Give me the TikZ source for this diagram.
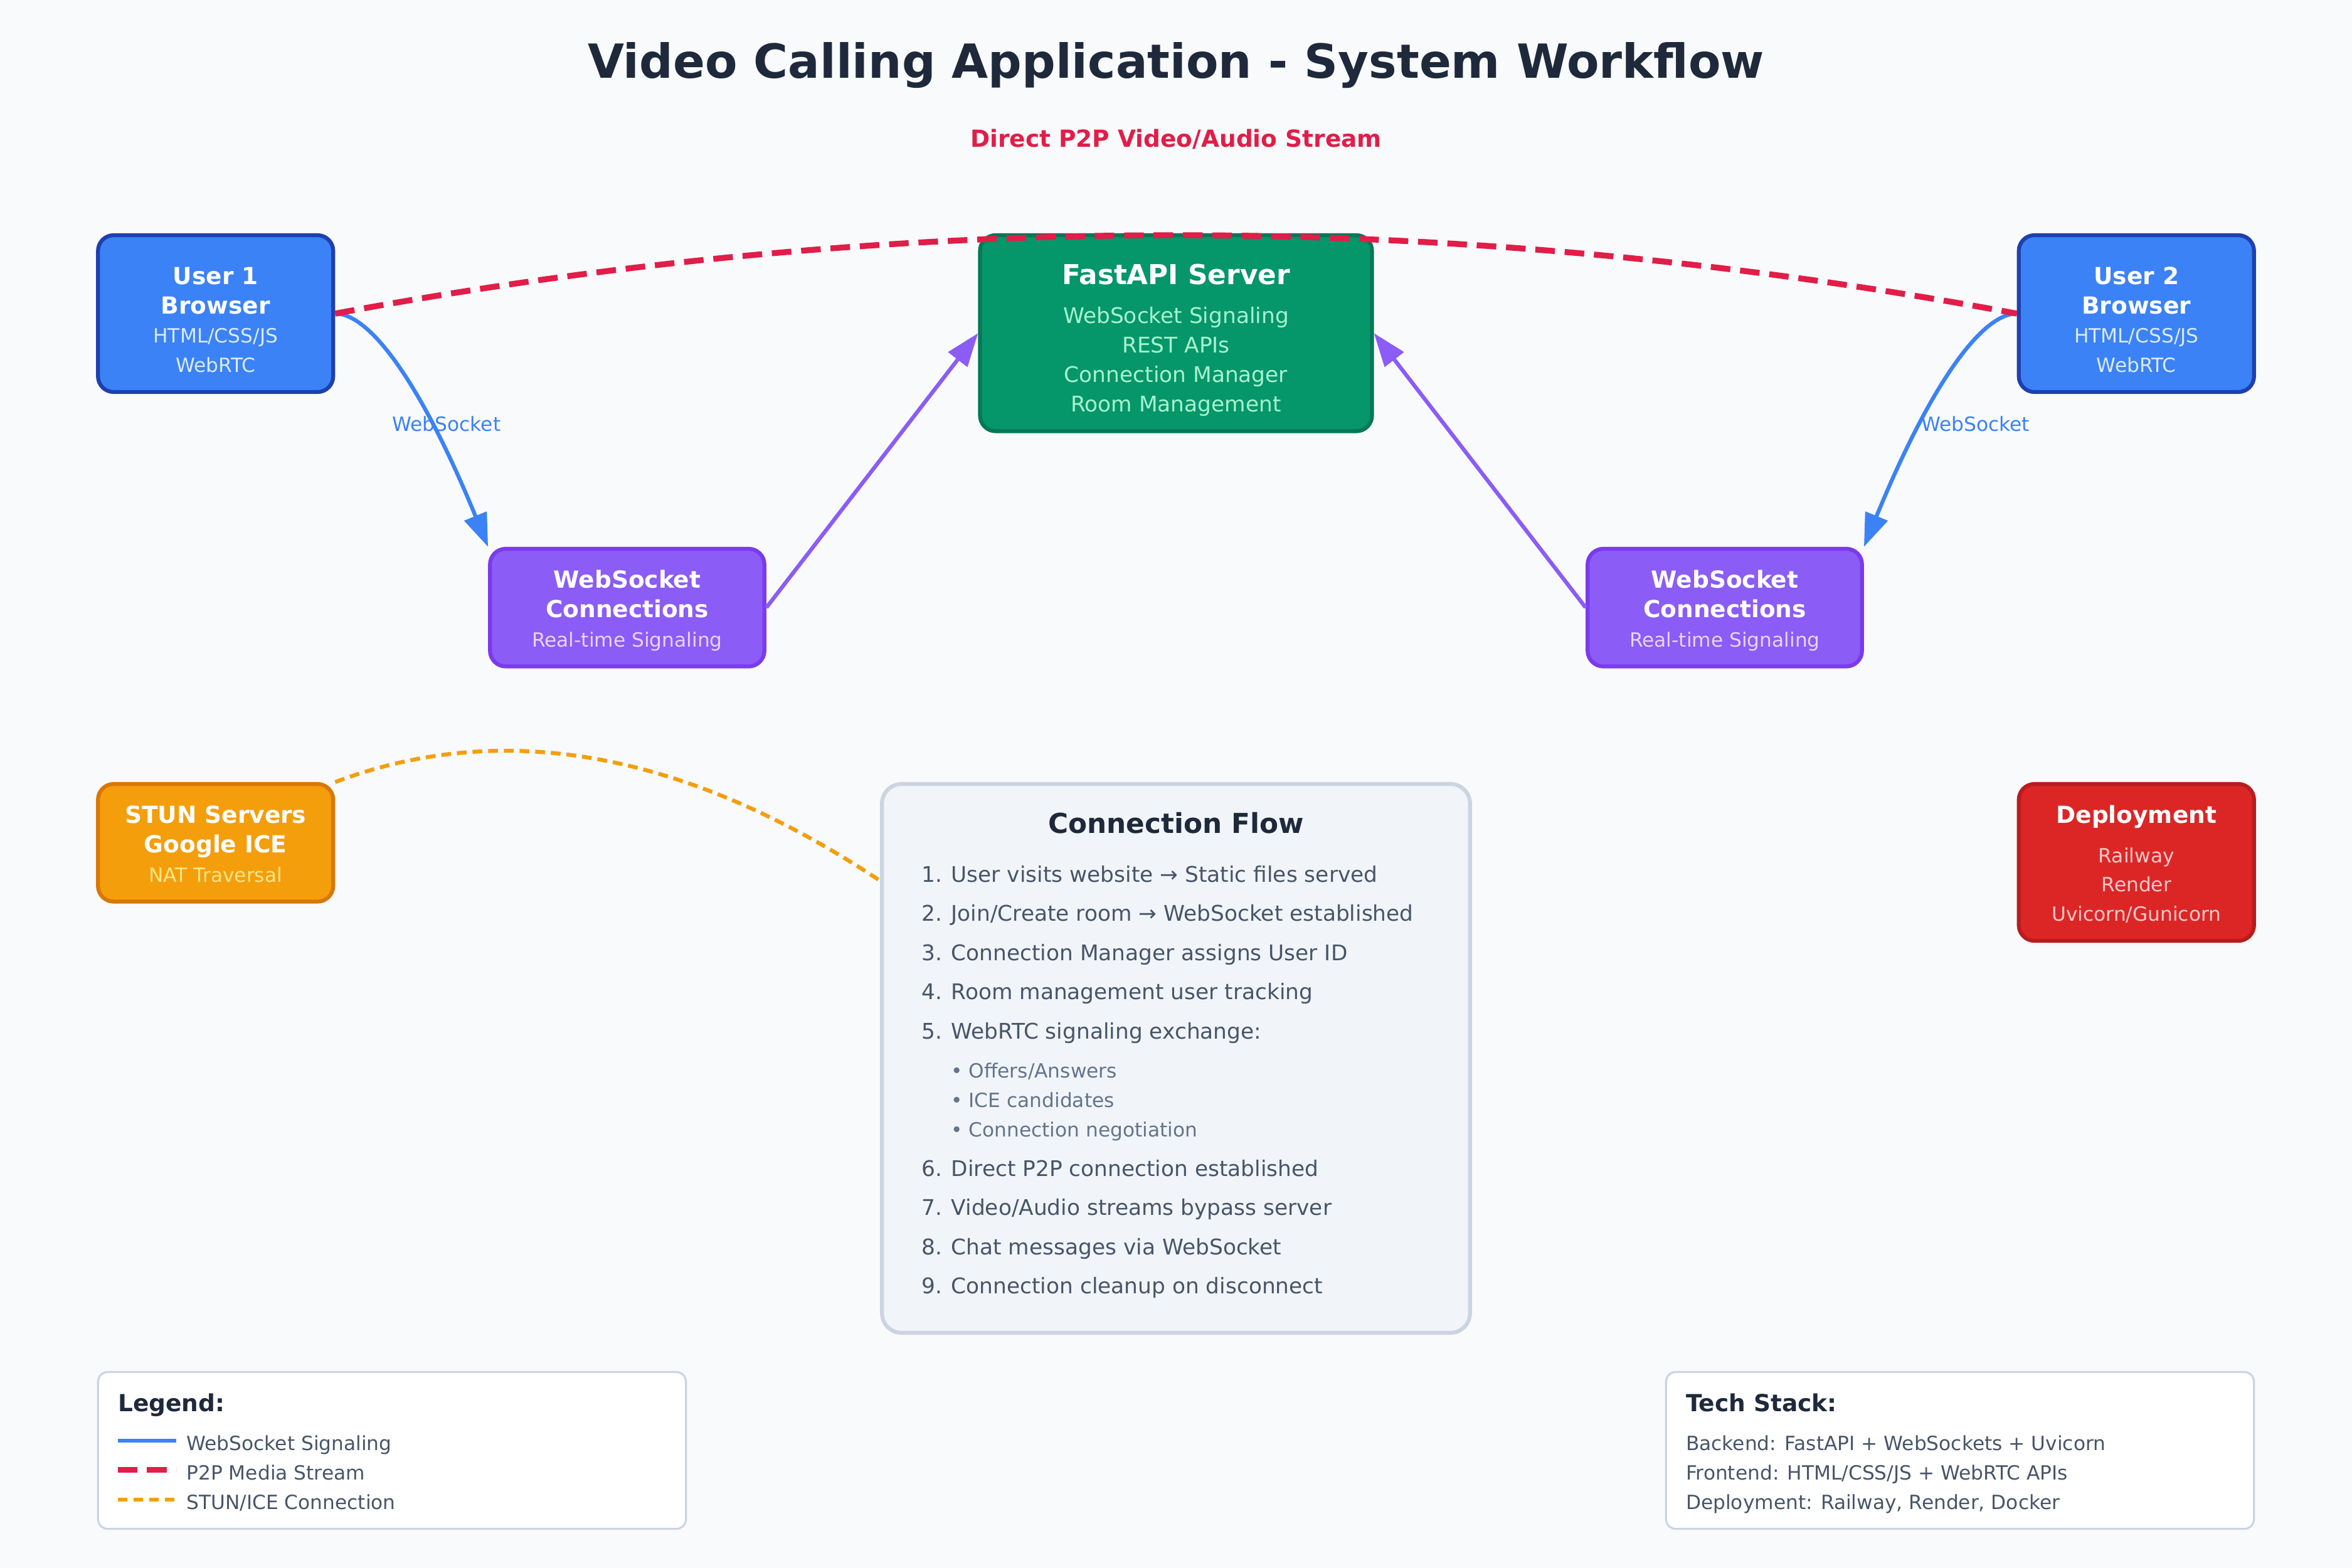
\documentclass[tikz,border=0pt]{standalone}
\usepackage{fontspec}
\setmainfont{DejaVu Sans}
\usetikzlibrary{arrows.meta}
\definecolor{bg}{HTML}{F8FAFC}
\definecolor{titlec}{HTML}{1E293B}
\definecolor{p2pred}{HTML}{E11D48}
\definecolor{blueA}{HTML}{3B82F6}
\definecolor{blueB}{HTML}{1E40AF}
\definecolor{blueT}{HTML}{DBEAFE}
\definecolor{greenA}{HTML}{059669}
\definecolor{greenB}{HTML}{047857}
\definecolor{greenT}{HTML}{A7F3D0}
\definecolor{purpA}{HTML}{8B5CF6}
\definecolor{purpB}{HTML}{7C3AED}
\definecolor{purpT}{HTML}{E9D5FF}
\definecolor{orangeA}{HTML}{F59E0B}
\definecolor{orangeB}{HTML}{D97706}
\definecolor{orangeT}{HTML}{FDE68A}
\definecolor{redA}{HTML}{DC2626}
\definecolor{redB}{HTML}{B91C1C}
\definecolor{redT}{HTML}{FECACA}
\definecolor{flowfill}{HTML}{F1F5F9}
\definecolor{flowstroke}{HTML}{CBD5E1}
\definecolor{itemc}{HTML}{475569}
\definecolor{bulletc}{HTML}{64748B}
\begin{document}
\begin{tikzpicture}[x=1pt,y=-1pt,
  txt/.style={inner sep=0pt, anchor=base},
  txtl/.style={inner sep=0pt, anchor=base west},
  boxbase/.style={rectangle, rounded corners=8pt, line width=2pt, inner sep=0pt},
  userbox/.style={boxbase, fill=blueA, draw=blueB, minimum width=120pt, minimum height=80pt},
  serverbox/.style={boxbase, fill=greenA, draw=greenB, minimum width=200pt, minimum height=100pt},
  wsbox/.style={boxbase, fill=purpA, draw=purpB, minimum width=140pt, minimum height=60pt},
  stunbox/.style={boxbase, fill=orangeA, draw=orangeB, minimum width=120pt, minimum height=60pt},
  depbox/.style={boxbase, fill=redA, draw=redB, minimum width=120pt, minimum height=80pt},
  flowbox/.style={rectangle, rounded corners=10pt, line width=2pt, fill=flowfill, draw=flowstroke, minimum width=300pt, minimum height=280pt, inner sep=0pt},
  infobox/.style={rectangle, rounded corners=5pt, line width=1pt, fill=white, draw=flowstroke, minimum width=300pt, minimum height=80pt, inner sep=0pt},
  boxtitle/.style={txt, font=\fontsize{12}{14}\selectfont\bfseries, text=white},
  boxsub/.style={txt, font=\fontsize{10}{12}\selectfont},
  srvsub/.style={txt, font=\fontsize{11}{13}\selectfont, text=greenT},
  item/.style={txtl, font=\fontsize{11}{13}\selectfont, text=itemc},
  bullet/.style={txtl, font=\fontsize{10}{12}\selectfont, text=bulletc},
  small/.style={txtl, font=\fontsize{10}{12}\selectfont, text=itemc},
  head/.style={txtl, font=\fontsize{12}{14}\selectfont\bfseries, text=titlec},
  wsline/.style={draw=blueA, line width=2pt},
  sigline/.style={draw=purpA, line width=2pt},
  p2pline/.style={draw=p2pred, line width=3pt, dash pattern=on 10pt off 5pt},
  iceline/.style={draw=orangeA, line width=2pt, dash pattern=on 5pt off 3pt},
  tip/.style={-{Triangle[length=17pt,width=12pt]}}
]
\useasboundingbox (0,0) rectangle (1200,800);
\fill[bg] (0,0) rectangle (1200,800);

% title
\node[txt, font=\fontsize{24}{28}\selectfont\bfseries, text=titlec] (title) at (600,40) {Video Calling Application - System Workflow};
\node[txt, font=\fontsize{12}{14}\selectfont\bfseries, text=p2pred] (p2plabel) at (600,75) {Direct P2P Video/Audio Stream};

% boxes
\node[userbox] (u1) at (110,160) {};
\node[userbox] (u2) at (1090,160) {};
\node[serverbox] (fast) at (600,170) {};
\node[wsbox] (wsl) at (320,310) {};
\node[wsbox] (wsr) at (880,310) {};
\node[stunbox] (stun) at (110,430) {};
\node[depbox] (dep) at (1090,440) {};
\node[flowbox] (flow) at (600,540) {};
\node[infobox] (legend) at (200,740) {};
\node[infobox] (tech) at (1000,740) {};

% user 1 text
\node[boxtitle] (u1a) at (110,145) {User 1};
\node[boxtitle] (u1b) at (110,160) {Browser};
\node[boxsub, text=blueT] (u1c) at (110,175) {HTML/CSS/JS};
\node[boxsub, text=blueT] (u1d) at (110,190) {WebRTC};
% user 2 text
\node[boxtitle] (u2a) at (1090,145) {User 2};
\node[boxtitle] (u2b) at (1090,160) {Browser};
\node[boxsub, text=blueT] (u2c) at (1090,175) {HTML/CSS/JS};
\node[boxsub, text=blueT] (u2d) at (1090,190) {WebRTC};
% server text
\node[txt, font=\fontsize{14}{16}\selectfont\bfseries, text=white] (fa) at (600,145) {FastAPI Server};
\node[srvsub] (fb) at (600,165) {WebSocket Signaling};
\node[srvsub] (fc) at (600,180) {REST APIs};
\node[srvsub] (fd) at (600,195) {Connection Manager};
\node[srvsub] (fe) at (600,210) {Room Management};
% websocket boxes
\node[boxtitle] (wla) at (320,300) {WebSocket};
\node[boxtitle] (wlb) at (320,315) {Connections};
\node[boxsub, text=purpT] (wlc) at (320,330) {Real-time Signaling};
\node[boxtitle] (wra) at (880,300) {WebSocket};
\node[boxtitle] (wrb) at (880,315) {Connections};
\node[boxsub, text=purpT] (wrc) at (880,330) {Real-time Signaling};
% stun
\node[boxtitle] (sa) at (110,420) {STUN Servers};
\node[boxtitle] (sb) at (110,435) {Google ICE};
\node[boxsub, text=orangeT] (sc) at (110,450) {NAT Traversal};
% deployment
\node[boxtitle] (da) at (1090,420) {Deployment};
\node[boxsub, text=redT] (db) at (1090,440) {Railway};
\node[boxsub, text=redT] (dc) at (1090,455) {Render};
\node[boxsub, text=redT] (dd) at (1090,470) {Uvicorn/Gunicorn};

% connection flow
\node[txt, font=\fontsize{14}{16}\selectfont\bfseries, text=titlec] (cft) at (600,425) {Connection Flow};
\node[item] (i1) at (470,450) {1. User visits website → Static files served};
\node[item] (i2) at (470,470) {2. Join/Create room → WebSocket established};
\node[item] (i3) at (470,490) {3. Connection Manager assigns User ID};
\node[item] (i4) at (470,510) {4. Room management user tracking};
\node[item] (i5) at (470,530) {5. WebRTC signaling exchange:};
\node[bullet] (b1) at (485,550) {• Offers/Answers};
\node[bullet] (b2) at (485,565) {• ICE candidates};
\node[bullet] (b3) at (485,580) {• Connection negotiation};
\node[item] (i6) at (470,600) {6. Direct P2P connection established};
\node[item] (i7) at (470,620) {7. Video/Audio streams bypass server};
\node[item] (i8) at (470,640) {8. Chat messages via WebSocket};
\node[item] (i9) at (470,660) {9. Connection cleanup on disconnect};

% legend
\node[head] (lgt) at (60,720) {Legend:};
\coordinate (l1a) at (60,735); \coordinate (l1b) at (90,735);
\coordinate (l2a) at (60,750); \coordinate (l2b) at (90,750);
\coordinate (l3a) at (60,765); \coordinate (l3b) at (90,765);
\draw[wsline] (l1a) -- (l1b);
\draw[p2pline] (l2a) -- (l2b);
\draw[iceline] (l3a) -- (l3b);
\node[small] (lg1) at (95,740) {WebSocket Signaling};
\node[small] (lg2) at (95,755) {P2P Media Stream};
\node[small] (lg3) at (95,770) {STUN/ICE Connection};

% tech stack
\node[head] (tst) at (860,720) {Tech Stack:};
\node[small] (ts1) at (860,740) {Backend: FastAPI + WebSockets + Uvicorn};
\node[small] (ts2) at (860,755) {Frontend: HTML/CSS/JS + WebRTC APIs};
\node[small] (ts3) at (860,770) {Deployment: Railway, Render, Docker};

% connectors
\draw[wsline, tip] (u1.east) .. controls (190,160) and (216.67,200) .. (wsl.north west);
\draw[wsline, tip] (u2.west) .. controls (1010,160) and (983.33,200) .. (wsr.north east);
\node[txtl, font=\fontsize{10}{12}\selectfont, text=blueA] (wsl1) at (200,220) {WebSocket};
\node[txtl, font=\fontsize{10}{12}\selectfont, text=blueA] (wsl2) at (980,220) {WebSocket};
\draw[sigline, tip] (wsl.east) -- (fast.west);
\draw[sigline, tip] (wsr.west) -- (fast.east);
\draw[p2pline] (u1.east) .. controls (456.67,106.67) and (743.33,106.67) .. (u2.west);
\coordinate (flowin) at (450,450);
\draw[iceline] (stun.north east) .. controls (256.67,366.67) and (350,383.33) .. (flowin);
\end{tikzpicture}
\end{document}
